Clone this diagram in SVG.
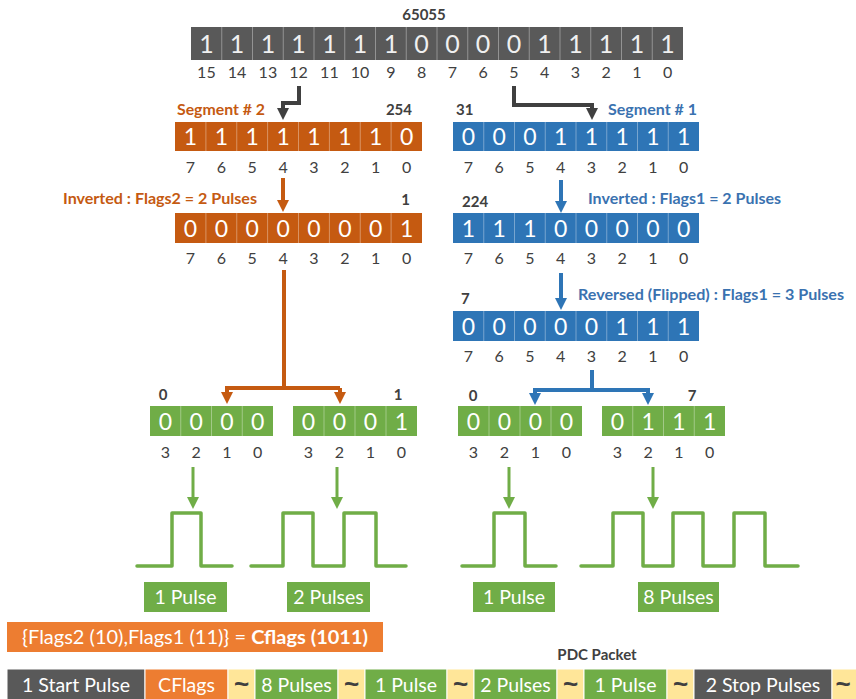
<svg xmlns="http://www.w3.org/2000/svg" width="856" height="699" viewBox="0 0 856 699">
<defs>
<marker id="aDark" markerUnits="userSpaceOnUse" markerWidth="14" markerHeight="14" refX="0" refY="6" orient="auto"><path d="M0,0 L12,6 L0,12 z" fill="#404040"/></marker>
<marker id="aOr" markerUnits="userSpaceOnUse" markerWidth="14" markerHeight="14" refX="0" refY="6" orient="auto"><path d="M0,0 L12,6 L0,12 z" fill="#c55a11"/></marker>
<marker id="aBl" markerUnits="userSpaceOnUse" markerWidth="14" markerHeight="14" refX="0" refY="6" orient="auto"><path d="M0,0 L12,6 L0,12 z" fill="#2e75b6"/></marker>
<marker id="aGr" markerUnits="userSpaceOnUse" markerWidth="14" markerHeight="14" refX="0" refY="6" orient="auto"><path d="M0,0 L12,6 L0,12 z" fill="#70ad47"/></marker>
</defs>
<style>
text{font-family:Lato,"Open Sans","Liberation Sans",sans-serif}
.bit{font-size:23px;fill:#ffffff;text-anchor:middle}
.bitT{font-size:25px;fill:#f0f0f0;text-anchor:middle}
.idx{font-size:16px;fill:#404040;text-anchor:middle}
.lbl{font-size:15px;font-weight:bold;fill:#404040}
.olbl{font-size:15px;font-weight:bold;fill:#c55a11}
.blbl{font-size:15px;font-weight:bold;fill:#3a72b0}
.sep{stroke:#ffffff;stroke-opacity:0.35;stroke-width:1}
.dark{fill:#595959}.or{fill:#c55a11}.bl{fill:#2e75b6}.gr{fill:#70ad47}.or2{fill:#ed7d31}.yl{fill:#ffe699}
.pulse{fill:none;stroke:#70ad47;stroke-width:3.5;stroke-linecap:round;stroke-linejoin:round}
.wt{font-size:19.5px;fill:#ffffff;text-anchor:middle}
.tl{font-family:"Liberation Sans",sans-serif;font-size:26px;font-weight:bold;fill:#404040;text-anchor:middle}
</style>
<rect width="856" height="699" fill="#ffffff"/>

<g id="word16">
<text class="lbl" x="424" y="20" text-anchor="middle">65055</text>
<rect class="dark" x="191" y="27" width="492" height="33"/>
<path class="sep" d="M221.75 27V60M252.5 27V60M283.25 27V60M314 27V60M344.75 27V60M375.5 27V60M406.25 27V60M437 27V60M467.75 27V60M498.5 27V60M529.25 27V60M560 27V60M590.75 27V60M621.5 27V60M652.25 27V60"/>
<text class="bitT" y="52.5"><tspan x="206.4">1</tspan><tspan x="237.1">1</tspan><tspan x="267.9">1</tspan><tspan x="298.6">1</tspan><tspan x="329.4">1</tspan><tspan x="360.1">1</tspan><tspan x="390.9">1</tspan><tspan x="421.6">0</tspan><tspan x="452.4">0</tspan><tspan x="483.1">0</tspan><tspan x="513.9">0</tspan><tspan x="544.6">1</tspan><tspan x="575.4">1</tspan><tspan x="606.1">1</tspan><tspan x="636.9">1</tspan><tspan x="667.6">1</tspan></text>
<text class="idx" y="78"><tspan x="206.4">15</tspan><tspan x="237.1">14</tspan><tspan x="267.9">13</tspan><tspan x="298.6">12</tspan><tspan x="329.4">11</tspan><tspan x="360.1">10</tspan><tspan x="390.9">9</tspan><tspan x="421.6">8</tspan><tspan x="452.4">7</tspan><tspan x="483.1">6</tspan><tspan x="513.9">5</tspan><tspan x="544.6">4</tspan><tspan x="575.4">3</tspan><tspan x="606.1">2</tspan><tspan x="636.9">1</tspan><tspan x="667.6">0</tspan></text>
</g>

<g id="seg2">
<text class="olbl" x="177" y="115" textLength="88" lengthAdjust="spacingAndGlyphs">Segment # 2</text>
<text class="lbl" x="412" y="115" text-anchor="end">254</text>
<rect class="or" x="175" y="122" width="247" height="29"/>
<path class="sep" d="M205.9 122V151M236.75 122V151M267.6 122V151M298.5 122V151M329.4 122V151M360.25 122V151M391.1 122V151"/>
<text class="bit" y="144.5"><tspan x="190.4">1</tspan><tspan x="221.3">1</tspan><tspan x="252.2">1</tspan><tspan x="283.1">1</tspan><tspan x="314">1</tspan><tspan x="344.8">1</tspan><tspan x="375.7">1</tspan><tspan x="406.6">0</tspan></text>
<text class="idx" y="172.5"><tspan x="190.4">7</tspan><tspan x="221.3">6</tspan><tspan x="252.2">5</tspan><tspan x="283.1">4</tspan><tspan x="314">3</tspan><tspan x="344.8">2</tspan><tspan x="375.7">1</tspan><tspan x="406.6">0</tspan></text>
</g>

<g id="seg2inv">
<text class="olbl" x="63" y="204" textLength="194" lengthAdjust="spacingAndGlyphs">Inverted : Flags2 = 2 Pulses</text>
<text class="lbl" x="410" y="205" text-anchor="end">1</text>
<rect class="or" x="175" y="213" width="247" height="30"/>
<path class="sep" d="M205.9 213V243M236.75 213V243M267.6 213V243M298.5 213V243M329.4 213V243M360.25 213V243M391.1 213V243"/>
<text class="bit" y="236.5"><tspan x="190.4">0</tspan><tspan x="221.3">0</tspan><tspan x="252.2">0</tspan><tspan x="283.1">0</tspan><tspan x="314">0</tspan><tspan x="344.8">0</tspan><tspan x="375.7">0</tspan><tspan x="406.6">1</tspan></text>
<text class="idx" y="263.5"><tspan x="190.4">7</tspan><tspan x="221.3">6</tspan><tspan x="252.2">5</tspan><tspan x="283.1">4</tspan><tspan x="314">3</tspan><tspan x="344.8">2</tspan><tspan x="375.7">1</tspan><tspan x="406.6">0</tspan></text>
</g>

<g id="seg1">
<text class="lbl" x="456" y="115">31</text>
<text class="blbl" x="608" y="115" textLength="89" lengthAdjust="spacingAndGlyphs">Segment # 1</text>
<rect class="bl" x="453" y="122" width="246" height="29"/>
<path class="sep" d="M483.75 122V151M514.5 122V151M545.25 122V151M576 122V151M606.75 122V151M637.5 122V151M668.25 122V151"/>
<text class="bit" y="144.5"><tspan x="468.4">0</tspan><tspan x="499.1">0</tspan><tspan x="529.9">0</tspan><tspan x="560.6">1</tspan><tspan x="591.4">1</tspan><tspan x="622.1">1</tspan><tspan x="652.9">1</tspan><tspan x="683.6">1</tspan></text>
<text class="idx" y="172.5"><tspan x="468.4">7</tspan><tspan x="499.1">6</tspan><tspan x="529.9">5</tspan><tspan x="560.6">4</tspan><tspan x="591.4">3</tspan><tspan x="622.1">2</tspan><tspan x="652.9">1</tspan><tspan x="683.6">0</tspan></text>
</g>

<g id="seg1inv">
<text class="lbl" x="462" y="207">224</text>
<text class="blbl" x="588" y="204" textLength="193" lengthAdjust="spacingAndGlyphs">Inverted : Flags1 = 2 Pulses</text>
<rect class="bl" x="453" y="213" width="246" height="30"/>
<path class="sep" d="M483.75 213V243M514.5 213V243M545.25 213V243M576 213V243M606.75 213V243M637.5 213V243M668.25 213V243"/>
<text class="bit" y="236.5"><tspan x="468.4">1</tspan><tspan x="499.1">1</tspan><tspan x="529.9">1</tspan><tspan x="560.6">0</tspan><tspan x="591.4">0</tspan><tspan x="622.1">0</tspan><tspan x="652.9">0</tspan><tspan x="683.6">0</tspan></text>
<text class="idx" y="263.5"><tspan x="468.4">7</tspan><tspan x="499.1">6</tspan><tspan x="529.9">5</tspan><tspan x="560.6">4</tspan><tspan x="591.4">3</tspan><tspan x="622.1">2</tspan><tspan x="652.9">1</tspan><tspan x="683.6">0</tspan></text>
</g>

<g id="seg1rev">
<text class="lbl" x="461" y="304">7</text>
<text class="blbl" x="578" y="300" textLength="266" lengthAdjust="spacingAndGlyphs">Reversed (Flipped) : Flags1 = 3 Pulses</text>
<rect class="bl" x="453" y="311" width="246" height="30"/>
<path class="sep" d="M483.75 311V341M514.5 311V341M545.25 311V341M576 311V341M606.75 311V341M637.5 311V341M668.25 311V341"/>
<text class="bit" y="334.5"><tspan x="468.4">0</tspan><tspan x="499.1">0</tspan><tspan x="529.9">0</tspan><tspan x="560.6">0</tspan><tspan x="591.4">0</tspan><tspan x="622.1">1</tspan><tspan x="652.9">1</tspan><tspan x="683.6">1</tspan></text>
<text class="idx" y="361.5"><tspan x="468.4">7</tspan><tspan x="499.1">6</tspan><tspan x="529.9">5</tspan><tspan x="560.6">4</tspan><tspan x="591.4">3</tspan><tspan x="622.1">2</tspan><tspan x="652.9">1</tspan><tspan x="683.6">0</tspan></text>
</g>

<g id="nibLL">
<text class="lbl" x="163" y="400" text-anchor="middle">0</text>
<rect class="gr" x="150" y="406" width="123" height="30"/>
<path class="sep" d="M180.75 406V436M211.5 406V436M242.25 406V436"/>
<text class="bit" y="429.5"><tspan x="165.4">0</tspan><tspan x="196.1">0</tspan><tspan x="226.9">0</tspan><tspan x="257.6">0</tspan></text>
<text class="idx" y="457.5"><tspan x="165.4">3</tspan><tspan x="196.1">2</tspan><tspan x="226.9">1</tspan><tspan x="257.6">0</tspan></text>
</g>
<g id="nibLR">
<text class="lbl" x="398" y="400" text-anchor="middle">1</text>
<rect class="gr" x="293" y="406" width="124" height="30"/>
<path class="sep" d="M324 406V436M355 406V436M386 406V436"/>
<text class="bit" y="429.5"><tspan x="308.5">0</tspan><tspan x="339.5">0</tspan><tspan x="370.5">0</tspan><tspan x="401.5">1</tspan></text>
<text class="idx" y="457.5"><tspan x="308.5">3</tspan><tspan x="339.5">2</tspan><tspan x="370.5">1</tspan><tspan x="401.5">0</tspan></text>
</g>
<g id="nibRL">
<text class="lbl" x="473" y="401" text-anchor="middle">0</text>
<rect class="gr" x="458" y="406" width="124" height="30"/>
<path class="sep" d="M489 406V436M520 406V436M551 406V436"/>
<text class="bit" y="429.5"><tspan x="473.5">0</tspan><tspan x="504.5">0</tspan><tspan x="535.5">0</tspan><tspan x="566.5">0</tspan></text>
<text class="idx" y="457.5"><tspan x="473.5">3</tspan><tspan x="504.5">2</tspan><tspan x="535.5">1</tspan><tspan x="566.5">0</tspan></text>
</g>
<g id="nibRR">
<text class="lbl" x="692" y="401" text-anchor="middle">7</text>
<rect class="gr" x="602" y="406" width="123" height="30"/>
<path class="sep" d="M632.75 406V436M663.5 406V436M694.25 406V436"/>
<text class="bit" y="429.5"><tspan x="617.4">0</tspan><tspan x="648.1">1</tspan><tspan x="678.9">1</tspan><tspan x="709.6">1</tspan></text>
<text class="idx" y="457.5"><tspan x="617.4">3</tspan><tspan x="648.1">2</tspan><tspan x="678.9">1</tspan><tspan x="709.6">0</tspan></text>
</g>

<g id="connectors" fill="none">
<path d="M299 86V103H283V108" stroke="#404040" stroke-width="4" marker-end="url(#aDark)"/>
<path d="M514 86V105H592V108" stroke="#404040" stroke-width="4" marker-end="url(#aDark)"/>
<path d="M283 178V200" stroke="#c55a11" stroke-width="4" marker-end="url(#aOr)"/>
<path d="M561 180V201" stroke="#2e75b6" stroke-width="4" marker-end="url(#aBl)"/>
<path d="M561 273V298" stroke="#2e75b6" stroke-width="4" marker-end="url(#aBl)"/>
<path d="M284 270V388" stroke="#c55a11" stroke-width="4"/>
<path d="M225 388H340" stroke="#c55a11" stroke-width="4"/>
<path d="M227 388V392" stroke="#c55a11" stroke-width="4" marker-end="url(#aOr)"/>
<path d="M340 388V392" stroke="#c55a11" stroke-width="4" marker-end="url(#aOr)"/>
<path d="M592 370V390" stroke="#2e75b6" stroke-width="4"/>
<path d="M533 390H650" stroke="#2e75b6" stroke-width="4"/>
<path d="M535 390V393" stroke="#2e75b6" stroke-width="4" marker-end="url(#aBl)"/>
<path d="M648 390V393" stroke="#2e75b6" stroke-width="4" marker-end="url(#aBl)"/>
<path d="M193 467V497" stroke="#70ad47" stroke-width="3" marker-end="url(#aGr)"/>
<path d="M337 467V497" stroke="#70ad47" stroke-width="3" marker-end="url(#aGr)"/>
<path d="M509 467V497" stroke="#70ad47" stroke-width="3" marker-end="url(#aGr)"/>
<path d="M653 467V497" stroke="#70ad47" stroke-width="3" marker-end="url(#aGr)"/>
</g>

<g id="wave1"><path class="pulse" d="M137 566H172V513H201V566H232"/></g>
<g id="wave2"><path class="pulse" d="M251 566H283V513H313V566H344V513H376V566H406"/></g>
<g id="wave3"><path class="pulse" d="M462 566H494V513H525V566H556"/></g>
<g id="wave4"><path class="pulse" d="M581 566H613V513H643V566H673V513H703V566H734V513H765V566H798"/></g>

<g id="lab1"><rect class="gr" x="144" y="582" width="83" height="30"/><text class="wt" x="185.5" y="604">1 Pulse</text></g>
<g id="lab2"><rect class="gr" x="287" y="582" width="83" height="30"/><text class="wt" x="328.5" y="604">2 Pulses</text></g>
<g id="lab3"><rect class="gr" x="473" y="582" width="82" height="30"/><text class="wt" x="514" y="604">1 Pulse</text></g>
<g id="lab4"><rect class="gr" x="638" y="582" width="81" height="30"/><text class="wt" x="678.5" y="604">8 Pulses</text></g>

<g id="cflags">
<rect class="or2" x="7" y="622" width="376" height="30"/>
<text class="wt" x="195" y="644" textLength="346" lengthAdjust="spacingAndGlyphs">{Flags2 (10),Flags1 (11)} = <tspan font-weight="bold">Cflags (1011)</tspan></text>
</g>

<g id="packet">
<text class="lbl" x="597" y="660" text-anchor="middle">PDC Packet</text>
<g stroke="#ffffff" stroke-width="1">
<rect class="dark" x="7" y="669" width="138" height="31"/>
<rect class="or2" x="145" y="669" width="83" height="31"/>
<rect class="yl" x="228" y="669" width="27" height="31"/>
<rect class="gr" x="255" y="669" width="83" height="31"/>
<rect class="yl" x="338" y="669" width="27" height="31"/>
<rect class="gr" x="365" y="669" width="82" height="31"/>
<rect class="yl" x="447" y="669" width="27" height="31"/>
<rect class="gr" x="474" y="669" width="83" height="31"/>
<rect class="yl" x="557" y="669" width="27" height="31"/>
<rect class="gr" x="584" y="669" width="83" height="31"/>
<rect class="yl" x="667" y="669" width="27" height="31"/>
<rect class="dark" x="694" y="669" width="138" height="31"/>
<rect class="yl" x="832" y="669" width="30" height="31"/>
</g>
<text class="wt" y="691.5"><tspan x="76">1 Start Pulse</tspan><tspan x="186.5">CFlags</tspan><tspan x="296.5">8 Pulses</tspan><tspan x="406">1 Pulse</tspan><tspan x="515.5">2 Pulses</tspan><tspan x="625.5">1 Pulse</tspan><tspan x="763">2 Stop Pulses</tspan></text>
<text class="tl" y="693"><tspan x="241.5">~</tspan><tspan x="351.5">~</tspan><tspan x="460.5">~</tspan><tspan x="570.5">~</tspan><tspan x="680.5">~</tspan><tspan x="843">~</tspan></text>
</g>
</svg>
